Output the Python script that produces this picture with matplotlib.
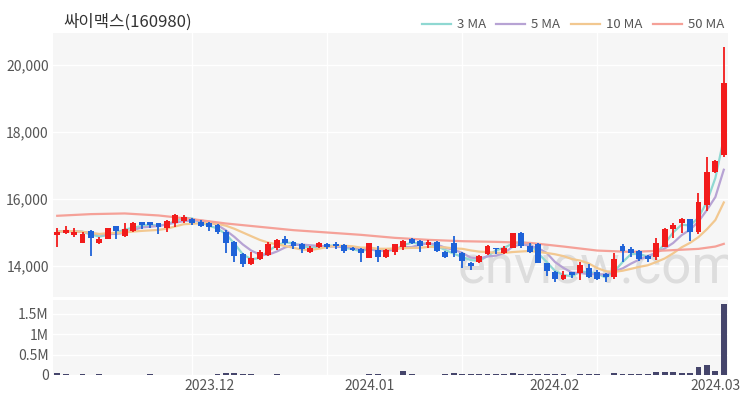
import matplotlib
matplotlib.use('Agg')
import matplotlib.pyplot as plt
from matplotlib.lines import Line2D
from matplotlib.ticker import FuncFormatter
import numpy as np
import pandas as pd

plt.rcParams['font.family'] = ['Noto Sans CJK KR', 'DejaVu Sans']

title = '싸이맥스(160980)'

opens = [14920, 14980, 14930, 14680, 15030, 14670, 14810, 15180, 14880, 15030,
         15290, 15290, 15260, 15110, 15280, 15340, 15390, 15310, 15260, 15210,
         15010, 14700, 14350, 14050, 14200, 14310, 14520, 14790, 14720, 14640,
         14410, 14550, 14640, 14640, 14620, 14530, 14500, 14240, 14470, 14260,
         14410, 14560, 14810, 14730, 14620, 14700, 14410, 14670, 14370, 14080,
         14110, 14340, 14530, 14370, 14530, 14970, 14600, 14640, 14080, 13800,
         13600, 13800, 13770, 13930, 13820, 13750, 13670, 14590, 14490, 14450,
         14300, 14260, 14560, 15080, 15260, 15380, 15010, 15810, 16810, 17310]
highs = [15110, 15190, 15110, 15010, 15060, 14860, 15130, 15190, 15260, 15290,
         15310, 15310, 15280, 15360, 15540, 15510, 15410, 15360, 15300, 15240,
         15060, 14730, 14380, 14420, 14470, 14710, 14810, 14880, 14740, 14670,
         14580, 14710, 14670, 14700, 14650, 14560, 14530, 14680, 14600, 14500,
         14660, 14760, 14830, 14760, 14760, 14730, 14440, 14880, 14410, 14120,
         14310, 14630, 14540, 14590, 14980, 15000, 14670, 14670, 14090, 13830,
         13830, 13810, 14110, 14040, 13870, 13770, 14370, 14640, 14550, 14470,
         14320, 14820, 15110, 15260, 15410, 15400, 16160, 17260, 17170, 20530]
lows = [14560, 14940, 14860, 14670, 14290, 14640, 14790, 14790, 14850, 15010,
        15090, 15110, 14940, 15010, 15160, 15260, 15210, 15160, 15040, 14960,
        14380, 14110, 13950, 14020, 14170, 14290, 14480, 14610, 14500, 14370,
        14370, 14520, 14500, 14500, 14370, 14430, 14120, 14220, 14120, 14220,
        14310, 14470, 14640, 14410, 14540, 14410, 14220, 14260, 13920, 13870,
        14080, 14320, 14340, 14350, 14520, 14530, 14370, 14080, 13690, 13520,
        13570, 13630, 13560, 13620, 13570, 13520, 13600, 14110, 14250, 14140,
        14120, 14170, 14560, 14840, 14980, 14740, 14960, 15640, 16780, 17260]
closes = [15010, 15060, 15010, 14960, 14830, 14810, 15110, 15040, 15090, 15260,
          15210, 15210, 15160, 15330, 15510, 15460, 15260, 15180, 15140, 15010,
          14670, 14290, 14050, 14220, 14420, 14640, 14760, 14670, 14590, 14490,
          14530, 14680, 14560, 14580, 14440, 14470, 14370, 14670, 14260, 14470,
          14640, 14730, 14670, 14600, 14700, 14440, 14260, 14370, 14140, 13990,
          14280, 14590, 14490, 14530, 14970, 14600, 14410, 14090, 13830, 13600,
          13720, 13720, 14020, 13670, 13590, 13670, 14190, 14450, 14390, 14210,
          14190, 14690, 15080, 15210, 15380, 15010, 15910, 16810, 17140, 19470]
volumes = [60000, 15000, 12000, 25000, 10000, 20000, 8000, 10000, 12000, 9000,
           8000, 25000, 10000, 9000, 12000, 10000, 9000, 8000, 10000, 30000,
           55000, 50000, 30000, 15000, 12000, 10000, 18000, 9000, 10000, 12000,
           10000, 9000, 8000, 10000, 12000, 10000, 9000, 20000, 15000, 12000,
           10000, 90000, 15000, 12000, 10000, 12000, 18000, 60000, 35000, 20000,
           15000, 35000, 25000, 20000, 55000, 30000, 25000, 20000, 25000, 30000,
           15000, 12000, 20000, 18000, 15000, 12000, 55000, 35000, 25000, 20000,
           18000, 75000, 80000, 70000, 40000, 45000, 200000, 240000, 110000, 1740000]

ma_windows = [3, 5, 10]
ma_labels = ['3 MA', '5 MA', '10 MA', '50 MA']
ma50_idx = [0, 4, 8, 12, 16, 20, 24, 28, 32, 36, 40, 44, 48, 52, 56, 60, 64, 68, 72, 76, 78, 79]
ma50_val = [15490, 15540, 15560, 15500, 15390, 15260, 15160, 15060, 14990, 14920,
            14830, 14770, 14730, 14710, 14680, 14570, 14450, 14410, 14450, 14500, 14570, 14650]

xtick_idx = [18, 37, 59, 78]
xtick_labels = ['2023.12', '2024.01', '2024.02', '2024.03']
vgrid_idx = [16, 32, 48, 64]
price_ticks = [14000, 16000, 18000, 20000]
vol_ticks = [0, 500000, 1000000, 1500000]
vol_tick_labels = ['0', '0.5M', '1M', '1.5M']

RED = '#f21b1b'
BLUE = '#1f62d8'
MA_COLORS = ['#8fd8d2', '#b7a3d4', '#f2c890', '#f5a198']
BG = '#f6f6f6'
TXT = '#555555'

fig = plt.figure(figsize=(7.5, 4), dpi=100)
ax = fig.add_axes([53/750, 1-297/400, 675/750, 264/400])
axv = fig.add_axes([53/750, 25/400, 675/750, 75/400], sharex=ax)

n = len(closes)
x = np.arange(n)
o = np.array(opens, float); c = np.array(closes, float)
h = np.array(highs, float); l = np.array(lows, float)
up = c >= o
cols = np.where(up, RED, BLUE)

for a in (ax, axv):
    a.set_facecolor(BG)
    for s in a.spines.values():
        s.set_visible(False)
    a.set_axisbelow(True)
    a.grid(axis='y', color='white', lw=1.0)
    for g in vgrid_idx:
        a.axvline(g, color='white', lw=1.0, zorder=0.5)
    a.tick_params(length=0, labelsize=10, colors=TXT, pad=3)

# watermark
ax.text(0.6, 0.01, 'enview.com', transform=ax.transAxes, fontsize=38,
        family=['Roboto', 'DejaVu Sans'], color='#dddddd', ha='left', va='bottom',
        zorder=1, clip_on=True)

# moving averages
cs = pd.Series(closes, dtype=float)
for w, col in zip(ma_windows, MA_COLORS[:3]):
    ax.plot(x, cs.rolling(w, min_periods=1).mean(), color=col, lw=1.6, zorder=2)
ax.plot(ma50_idx, ma50_val, color=MA_COLORS[3], lw=1.6, zorder=2)

# candles
ax.vlines(x, l, h, colors=cols, lw=1.3, zorder=3)
body_bottom = np.minimum(o, c)
body_h = np.maximum(np.abs(c - o), 25)
ax.bar(x, body_h, bottom=body_bottom, width=0.7, color=cols, linewidth=0, zorder=4)

ax.set_xlim(-0.5, n - 0.5)
ax.set_ylim(13060, 20960)
ax.set_yticks(price_ticks)
ax.yaxis.set_major_formatter(FuncFormatter(lambda v, p: f'{v:,.0f}'))
ax.tick_params(axis='x', labelbottom=False)

# volume
axv.bar(x, volumes, width=0.7, color='#45456b', linewidth=0, zorder=3)
axv.set_ylim(0, 1.84e6)
axv.set_yticks(vol_ticks)
axv.set_yticklabels(vol_tick_labels)
axv.set_xticks(xtick_idx)
axv.set_xticklabels(xtick_labels)

# title
fig.text(63/750, 1-22/400, title, fontsize=12, color='#333333', ha='left', va='center')

# legend
handles = [Line2D([0], [0], color=col, lw=1.6) for col in MA_COLORS]
fig.legend(handles, ma_labels, loc='center right', bbox_to_anchor=(724/750, 1-25/400),
           ncol=4, frameon=False, fontsize=9.5, handlelength=2.2, handletextpad=0.45,
           columnspacing=0.8, borderpad=0, borderaxespad=0, labelcolor=TXT)

fig.savefig('out.png', dpi=100)
